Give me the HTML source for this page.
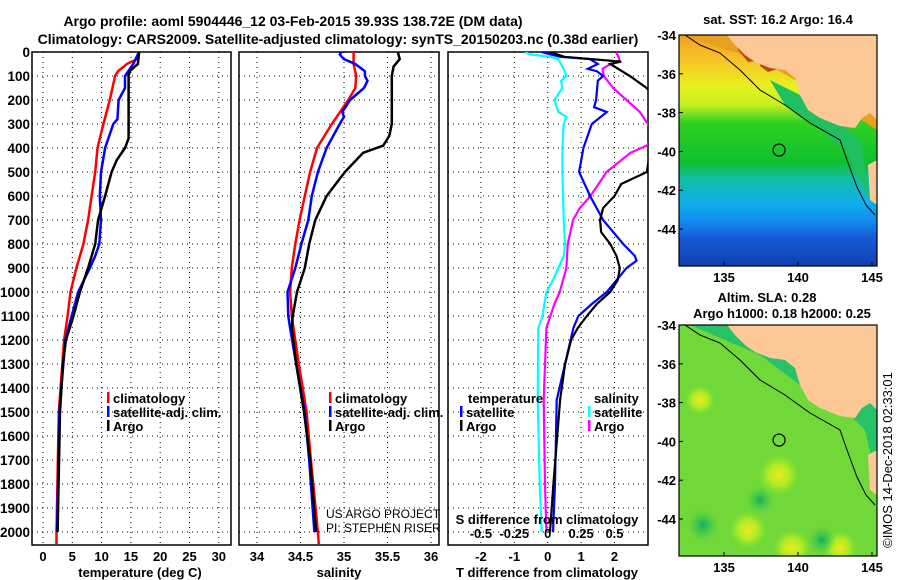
<!DOCTYPE html>
<html><head><meta charset="utf-8">
<style>
html,body{margin:0;padding:0;background:#fff;}
svg{display:block;font-family:"Liberation Sans",Arial,sans-serif;font-weight:bold;}
</style></head>
<body>
<svg id="chart" width="900" height="580" viewBox="0 0 900 580">
<defs>
<clipPath id="c1"><rect x="32" y="52" width="199" height="493"/></clipPath>
<clipPath id="c2"><rect x="239" y="52" width="200" height="493"/></clipPath>
<clipPath id="c3"><rect x="448" y="52" width="200" height="493"/></clipPath>
<clipPath id="cm1"><rect x="679" y="35" width="198" height="231"/></clipPath>
<clipPath id="cm2"><rect x="679" y="325" width="198" height="231"/></clipPath>
<linearGradient id="sstg" x1="0" y1="0" x2="0" y2="1">
<stop offset="0" stop-color="#f0a020"/><stop offset="0.1" stop-color="#f8c028"/>
<stop offset="0.22" stop-color="#e8f020"/><stop offset="0.3" stop-color="#c8f020"/>
<stop offset="0.38" stop-color="#30d020"/><stop offset="0.55" stop-color="#10c030"/>
<stop offset="0.62" stop-color="#10c0a0"/><stop offset="0.72" stop-color="#10b0e8"/>
<stop offset="0.8" stop-color="#1090f0"/><stop offset="0.88" stop-color="#1858d8"/>
<stop offset="1" stop-color="#1040b0"/></linearGradient>
<radialGradient id="yb"><stop offset="0" stop-color="#f0e820"/><stop offset="0.5" stop-color="#c0f020" stop-opacity="0.8"/><stop offset="1" stop-color="#80e030" stop-opacity="0"/></radialGradient>
<radialGradient id="gb"><stop offset="0" stop-color="#10b060"/><stop offset="1" stop-color="#40c850" stop-opacity="0"/></radialGradient>
</defs>
<g id="root"></g>
</svg>
<script>
// ---------- data ----------
const depthArgoT = [0,50,80,100,360,400,450,500,600,700,800,900,1000,1100,1200,1300,1500,2000];
const tempArgo   = [16.4,16.2,14.8,14.6,14.6,14.0,12.6,11.7,10.6,9.4,8.9,7.7,6.3,5.2,3.9,3.4,2.9,2.5];
const depthClimT = [0,30,50,80,100,200,300,400,500,600,700,800,900,1000,1100,1200,1500,2000,2050];
const tempClim   = [16.3,16.0,14.3,12.8,12.3,11.4,10.3,9.3,8.9,8.3,7.7,6.9,5.7,4.7,4.2,3.6,2.7,2.3,2.3];
const depthSatT  = [0,50,100,150,200,280,300,400,500,600,700,800,850,900,1000,1100,1200,1500,2000];
const tempSat    = [16.4,15.4,14.0,14.0,12.9,12.7,12.0,10.6,9.9,9.7,9.9,9.6,8.9,8.0,6.0,4.9,3.8,2.8,2.4];

const depthArgoS = [0,30,60,100,300,350,390,420,500,600,700,800,900,1000,1100,1150,1300,1500,1700,2000];
const salArgo    = [35.62,35.64,35.57,35.55,35.55,35.52,35.45,35.22,35.01,34.80,34.67,34.60,34.55,34.46,34.41,34.40,34.45,34.54,34.61,34.68];
const depthClimS = [0,50,100,150,200,300,400,500,600,700,800,900,1000,1100,1150,1300,1500,1700,2000,2050];
const salClim    = [35.11,35.11,35.14,35.13,35.05,34.86,34.69,34.61,34.55,34.49,34.44,34.40,34.38,34.40,34.42,34.48,34.57,34.62,34.70,34.71];
const depthSatS  = [0,10,30,50,80,100,120,150,200,250,270,300,400,500,600,700,800,900,1000,1100,1150,1300,1500,1700,2000];
const salSat     = [34.97,34.95,35.0,35.13,35.24,35.24,35.27,35.23,35.07,34.98,35.0,34.95,34.80,34.70,34.63,34.59,34.51,34.44,34.35,34.36,34.38,34.45,34.55,34.60,34.66];

const depthDT = [0,20,40,50,100,150,200,500,550,600,650,700,750,800,850,900,950,1000,1050,1100,1150,1200,1300,1450,1800,2000];
const dTArgo  = [0.07,0.5,2.2,1.87,2.46,2.96,3.3,2.97,2.2,2.0,1.66,1.57,1.6,1.87,2.06,2.16,2.1,1.87,1.47,1.17,0.9,0.7,0.52,0.37,0.17,0.07];
const depthDTs = [0,20,30,50,70,80,100,120,200,230,250,300,400,500,600,700,800,850,870,900,1000,1050,1100,1150,1450,1800,2000];
const dTSat    = [-0.18,0.37,1.27,1.5,1.2,1.47,1.66,1.5,1.45,1.39,1.77,1.32,1.07,0.94,1.27,1.66,2.26,2.61,2.66,2.36,1.77,1.32,0.92,0.77,0.27,0.22,0.16];
const depthDS = [0,10,20,30,70,100,120,150,200,250,270,300,400,500,700,800,850,900,950,1000,1100,1150,1450,1800,2000];
const dSSat   = [-0.17,-0.13,0.02,0.08,0.12,0.14,0.10,0.11,0.05,0.08,0.14,0.12,0.11,0.11,0.12,0.13,0.12,0.08,0.04,-0.01,-0.04,-0.07,-0.075,-0.06,-0.045];
const depthDSa = [0,20,40,50,70,100,150,200,250,300,350,390,420,500,600,650,700,800,900,1000,1050,1100,1150,1450,1800,2000];
const dSArgo   = [0.51,0.53,0.54,0.47,0.41,0.42,0.49,0.59,0.69,0.75,0.8,0.74,0.62,0.44,0.32,0.24,0.19,0.15,0.14,0.09,0.05,0.02,-0.01,-0.03,-0.02,-0.01];

const depthTicks = [0,100,200,300,400,500,600,700,800,900,1000,1100,1200,1300,1400,1500,1600,1700,1800,1900,2000];
const tempTicks = [0,5,10,15,20,25,30];
const salTicks = [34,34.5,35,35.5,36];
const dTTicks = [-2,-1,0,1,2];
const dSTicks = [-0.5,-0.25,0,0.25,0.5];
const dSTickLabels = ['-0.5','-0.25','0','0.25','0.5'];
const latTicks = [-34,-36,-38,-40,-42,-44];
const lonTicks = [135,140,145];
const argoLon = 138.72, argoLat = -39.93;

// ---------- axes ----------
const yD = d => 52 + d*0.24;
const xT = t => 43 + t*5.86;
const xS = s => 257 + (s-34)*87;
const xDT = v => 547.7 + v*33.4;
const xDS = v => 547.7 + v*133.6;
const mX = lon => 724 + (lon-135)*14.8;
const mY = (lat,top) => top + (-34-lat)*19.4;

const NS='http://www.w3.org/2000/svg';
const root=document.getElementById('root');
function mk(tag,attrs,parent){const e=document.createElementNS(NS,tag);for(const k in attrs)e.setAttribute(k,attrs[k]);(parent||root).appendChild(e);return e;}
function txt(x,y,s,size,anchor,parent,weight){const t=mk('text',{x:x,y:y,'font-size':size||13,'text-anchor':anchor||'middle'},parent);if(weight)t.setAttribute('font-weight',weight);t.textContent=s;return t;}

// titles
let t=txt(293,26,'Argo profile: aoml 5904446_12 03-Feb-2015 39.93S 138.72E (DM data)',14);


t=txt(338,44,'Climatology: CARS2009. Satellite-adjusted climatology: synTS_20150203.nc (0.38d earlier)',14);



function panel(x0,x1,name){
  const g=mk('g',{});
  
  
  mk('rect',{x:x0,y:52,width:x1-x0,height:493,fill:'#fff',stroke:'#000','stroke-width':1.5},g);
  depthTicks.forEach(d=>{
    const gl=mk('line',{x1:x0,x2:x1,y1:yD(d),y2:yD(d),stroke:'#000','stroke-width':1,'stroke-dasharray':'1,4'},g);
    
    
  });
  return g;
}
function vgrid(g,xs,fx){xs.forEach(v=>{const l=mk('line',{x1:fx(v),x2:fx(v),y1:52,y2:545,stroke:'#000','stroke-width':1,'stroke-dasharray':'1,4'},g);
  
  });}
function series(g,ds,vs,fx,color,clip,name,w){
  const pts=ds.map((d,i)=>fx(vs[i]).toFixed(1)+','+yD(d).toFixed(1)).join(' ');
  const p=mk('polyline',{points:pts,fill:'none',stroke:color,'stroke-width':w||2.5,'clip-path':'url(#'+clip+')'},g);
  
  
}

// Panel 1
const g1=panel(32,231,'temperature-panel');
vgrid(g1,tempTicks,xT);
depthTicks.forEach(d=>{const l=txt(30,yD(d)+5,String(d),13.5,'end',g1);
  
  });
tempTicks.forEach(v=>{const l=txt(xT(v),561,String(v),13,'middle',g1);
  
  });
t=txt(140,577,'temperature (deg C)',13,'middle',g1);


series(g1,depthClimT,tempClim,xT,'#ff0000','c1','temp-climatology-line');
series(g1,depthSatT,tempSat,xT,'#0000ff','c1','temp-satellite-line');
series(g1,depthArgoT,tempArgo,xT,'#000000','c1','temp-argo-line');

// Panel 2
const g2=panel(239,439,'salinity-panel');
vgrid(g2,salTicks,xS);
salTicks.forEach(v=>{const l=txt(xS(v),561,String(v),13,'middle',g2);
  
  });
t=txt(339,577,'salinity',13,'middle',g2);


series(g2,depthClimS,salClim,xS,'#ff0000','c2','sal-climatology-line');
series(g2,depthSatS,salSat,xS,'#0000ff','c2','sal-satellite-line');
series(g2,depthArgoS,salArgo,xS,'#000000','c2','sal-argo-line');
t=txt(326,518,'US ARGO PROJECT',12,'start',g2,'normal');


t=txt(326,532,'PI: STEPHEN RISER',12,'start',g2,'normal');



// Panel 3
const g3=panel(448,648,'difference-panel');
vgrid(g3,dTTicks,xDT);
dTTicks.forEach(v=>{const l=txt(xDT(v),561,String(v),13,'middle',g3);
  
  });
t=txt(547,577,'T difference from climatology',13,'middle',g3);


series(g3,depthDS,dSSat,xDS,'#00ffff','c3','s-diff-satellite-line',2.2);
series(g3,depthDSa,dSArgo,xDS,'#ff00ff','c3','s-diff-argo-line',2.2);
series(g3,depthDTs,dTSat,xDT,'#0000ff','c3','t-diff-satellite-line',2.2);
series(g3,depthDT,dTArgo,xDT,'#000000','c3','t-diff-argo-line',2.2);
t=txt(547,524,'S difference from climatology',13,'middle',g3);


dSTicks.forEach((v,i)=>{const l=txt(xDS(v),538,dSTickLabels[i],13,'middle',g3);
  
  });

// legends
function legItem(x,y,color,label,name){
  const g=mk('g',{});
  
  
  mk('rect',{x:x,y:y-11,width:2.5,height:11,fill:color},g);
  txt(x+6,y,label,13,'start',g);
}
legItem(107,403,'#ff0000','climatology','legend-climatology');
legItem(107,417,'#0000ff','satellite-adj. clim.','legend-satellite-adj');
legItem(107,431,'#000000','Argo','legend-argo');
legItem(329,403,'#ff0000','climatology','legend-sal-climatology');
legItem(329,417,'#0000ff','satellite-adj. clim.','legend-sal-satellite-adj');
legItem(329,431,'#000000','Argo','legend-sal-argo');
t=txt(468,403,'temperature',13,'start');


legItem(460,417,'#0000ff','satellite','legend-t-satellite');
legItem(460,431,'#000000','Argo','legend-t-argo');
t=txt(594,403,'salinity',13,'start');


legItem(588,417,'#00ffff','satellite','legend-s-satellite');
legItem(588,431,'#ff00ff','Argo','legend-s-argo');

// ---------- maps ----------
function land(g,top,clip){
  const o=top-35;
  const pts=[[727,35],[877,35],[877,205],[870,200],[868,165],[877,160],[877,120],[870,113],[862,118],[855,128],[840,126],[820,118],[808,110],[800,95],[795,78],[785,70],[770,68],[755,62],[745,55],[735,45]];
  const p=mk('polygon',{points:pts.map(q=>q[0]+','+(q[1]+o)).join(' '),fill:'#fcc896','clip-path':'url(#'+clip+')'},g);
  
  
  const sh=[[685,35],[700,45],[720,53],[740,70],[760,90],[785,105],[810,123],[840,140],[847,160],[857,187],[866,205],[875,215]];
  const l=mk('polyline',{points:sh.map(q=>q[0]+','+(q[1]+o)).join(' '),fill:'none',stroke:'#000','stroke-width':1,'clip-path':'url(#'+clip+')'},g);
  
  
}
function mapAxes(g,top){
  mk('rect',{x:679,y:top,width:198,height:231,fill:'none',stroke:'#000','stroke-width':1.2},g);
  latTicks.forEach(v=>{const l=txt(676,mY(v,top)+5,String(v),13,'end',g);
    
    
    mk('line',{x1:679,x2:683,y1:mY(v,top),y2:mY(v,top),stroke:'#000'},g);});
  lonTicks.forEach(v=>{const l=txt(mX(v),top+247,String(v),13,'middle',g);
    
    
    mk('line',{x1:mX(v),x2:mX(v),y1:top+231,y2:top+227,stroke:'#000'},g);});
  const c=mk('circle',{cx:mX(argoLon),cy:mY(argoLat,top),r:6,fill:'none',stroke:'#000','stroke-width':1.2},g);
  
  
}
const m1=mk('g',{});


mk('rect',{x:679,y:35,width:198,height:231,fill:'url(#sstg)'},m1);
mk('polygon',{points:'679,35 760,60 830,100 877,130 877,35',fill:'#e8a020','clip-path':'url(#cm1)'},m1);
mk('polygon',{points:'770,80 800,95 830,115 860,140 870,200 845,150 815,125 785,105',fill:'#20c060','clip-path':'url(#cm1)'},m1);
mk('polygon',{points:'740,38 760,38 762,60 748,62 738,50',fill:'#c04808'},m1);
mk('polygon',{points:'765,42 775,40 780,68 768,72 760,66',fill:'#c04808'},m1);
land(m1,35,'cm1');
mapAxes(m1,35);
t=txt(778,24,'sat. SST: 16.2 Argo: 16.4',13);



const m2=mk('g',{});


mk('rect',{x:679,y:325,width:198,height:231,fill:'#70d838'},m2);
mk('polygon',{points:'690,325 760,355 800,385 840,405 865,430 877,480 877,325',fill:'#28c068','clip-path':'url(#cm2)'},m2);
[[779,475,22],[748,530,20],[792,548,20],[700,400,16],[840,548,18]].forEach(b=>mk('circle',{cx:b[0],cy:b[1],r:b[2],fill:'url(#yb)','clip-path':'url(#cm2)'},m2));
[[703,525,16],[760,500,14],[822,540,14]].forEach(b=>mk('circle',{cx:b[0],cy:b[1],r:b[2],fill:'url(#gb)','clip-path':'url(#cm2)'},m2));
land(m2,325,'cm2');
mapAxes(m2,325);
t=txt(767,302,'Altim. SLA: 0.28',13);


t=txt(782,318,'Argo h1000: 0.18 h2000: 0.25',13);


t=txt(0,0,'©IMOS 14-Dec-2018 02:33:01',13,'middle',null,'normal');
t.setAttribute('transform','translate(892,460) rotate(-90)');


</script>
</body></html>
